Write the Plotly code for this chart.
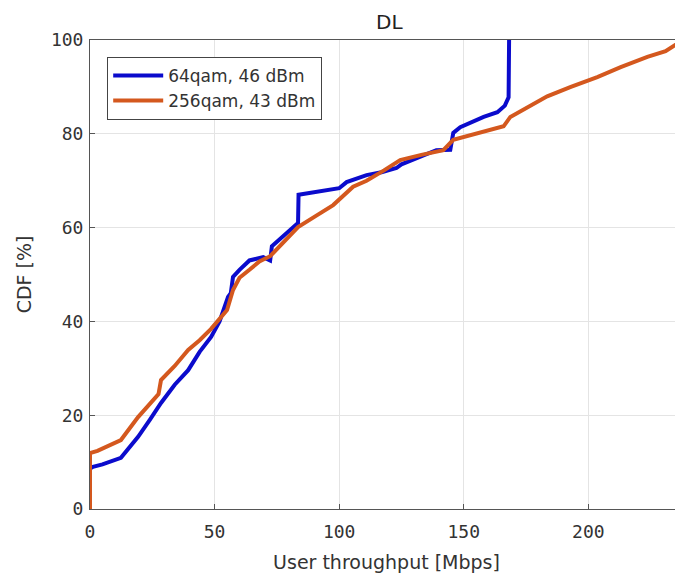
import plotly.graph_objects as go

# 64qam, 46 dBm
x_64qam = [0, 0, 1.2, 5, 12.4, 19.3, 24, 28.5, 34, 39.4, 44, 48.6, 52, 55.4, 56.5, 57.4, 60, 64,
           69.5, 72.3, 73, 78, 83.5, 83.7, 91, 100, 103, 111, 117, 123, 125, 132, 139, 144.6,
           145.8, 148.6, 152.6, 158, 163.5, 166.5, 168, 168.2]
y_64qam = [0, 8.6, 9, 9.5, 10.9, 15.4, 19, 22.6, 26.5, 29.6, 33.5, 36.7, 40, 45.2, 46, 49.5, 51, 53,
           53.7, 53, 56, 58.5, 61, 67, 67.6, 68.4, 69.7, 71.2, 71.8, 72.7, 73.5, 75, 76.5, 76.6,
           80.2, 81.4, 82.3, 83.6, 84.6, 86, 87.8, 100]

# 256qam, 43 dBm
x_256qam = [0, 0, 3, 12.4, 19.3, 24, 27.5, 28.5, 34, 39.4, 44, 48.6, 55, 57.4, 60, 64, 68, 72.3,
            79, 83.5, 91, 97.6, 105.6, 111, 118, 124.5, 133, 141.8, 145.8, 150, 155, 163, 166,
            168.7, 176, 183.5, 193, 203.6, 213, 223.7, 231, 238]
y_256qam = [0, 11.9, 12.4, 14.7, 19.6, 22.5, 24.5, 27.5, 30.5, 33.9, 36, 38.4, 42.4, 46.7, 49.3,
            51, 52.8, 53.9, 57.6, 60.1, 62.6, 64.8, 68.7, 70, 72.2, 74.4, 75.5, 76.5, 78.7, 79.3,
            80.2, 81.3, 81.6, 83.6, 85.8, 88, 90, 92.1, 94.2, 96.4, 97.6, 100]

fig = go.Figure()

fig.add_trace(go.Scatter(
    x=x_64qam, y=y_64qam, mode='lines',
    name='64qam, 46 dBm',
    line=dict(color='#0b0bcc', width=4)
))

fig.add_trace(go.Scatter(
    x=x_256qam, y=y_256qam, mode='lines',
    name='256qam, 43 dBm',
    line=dict(color='#d4581e', width=4)
))

axis_common = dict(
    showline=True, mirror=True, linecolor='#555', linewidth=1,
    ticks='inside', ticklen=5, tickcolor='#555',
    showgrid=True, gridcolor='#e4e4e4', zeroline=False,
    tickfont=dict(family='DejaVu Sans Mono', size=18, color='#333'),
)

# the page body adds an 8px offset, so the figure is shrunk to fit
fig.update_layout(
    width=675, height=565,
    margin=dict(l=82, r=0, t=32, b=64),
    paper_bgcolor='white', plot_bgcolor='white',
    title=dict(text='DL', x=0.565, xanchor='center', y=0.975, yanchor='middle', yref='container',
               font=dict(family='DejaVu Sans', size=20, color='#222')),
    xaxis=dict(range=[0, 238], dtick=50, ticklabelstandoff=6,
               title=dict(text='User throughput [Mbps]', standoff=16,
                          font=dict(family='DejaVu Sans', size=19, color='#333')),
               **axis_common),
    yaxis=dict(range=[0, 100], dtick=20, ticklabelstandoff=2,
               title=dict(text='CDF [%]', standoff=14,
                          font=dict(family='DejaVu Sans', size=19, color='#333')),
               **axis_common),
    legend=dict(x=0.029, y=0.964, xanchor='left', yanchor='top', itemwidth=50,
                bgcolor='white', bordercolor='#444', borderwidth=1,
                font=dict(family='DejaVu Sans', size=17, color='#333'),
                tracegroupgap=0),
    showlegend=True,
)

fig.write_html("out.html")
